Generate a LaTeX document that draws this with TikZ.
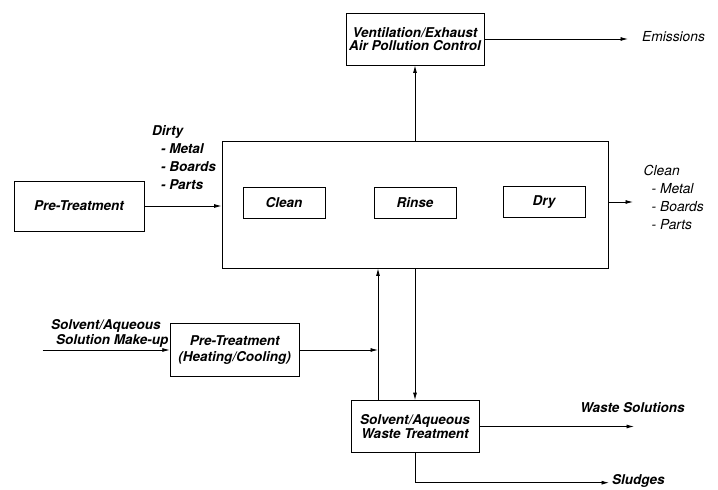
\documentclass[tikz,border=0pt]{standalone}
\usepackage{fontspec}
\setmainfont{TeX Gyre Heros}
\usetikzlibrary{arrows.meta, positioning}

\begin{document}
\begin{tikzpicture}[x=1pt, y=-1pt, line width=0.8pt,
  unit/.style={draw, align=center, inner sep=0pt, font=\fontsize{13.5}{12.5}\selectfont\bfseries\itshape},
  stage/.style={draw, minimum width=82pt, minimum height=31pt, inner sep=0pt, font=\fontsize{13.5}{13}\selectfont\bfseries\itshape},
  tag/.style={align=left, inner sep=0pt, font=\fontsize{13.5}{18}\selectfont\bfseries\itshape},
  flow/.style={-{Latex[length=7.5pt, width=4pt]}}]
  \useasboundingbox (0,0) rectangle (718,490);

  % Cleaning line
  \node[draw, minimum width=386pt, minimum height=127pt] (line) at (415,204.5) {};
  \node[stage] (clean) at (284,203) {Clean};
  \node[stage] (rinse) at (415,203) {Rinse};
  \node[stage] (dry) at (544,202) {Dry};

  % Air side
  \node[unit, minimum width=138pt, minimum height=52pt] (vent) at (415,39) {Ventilation/Exhaust\\Air Pollution Control};
  \draw[flow] (line.north) -- (vent.south);
  \coordinate (emis) at (628,39);
  \draw[flow] (vent.east) -- (emis);
  \node[tag, anchor=base west, font=\fontsize{13.8}{18}\selectfont\itshape] (emistxt) at (641.7,41.4) {Emissions};

  % Parts in
  \node[unit, minimum width=130pt, minimum height=50pt] (pre) at (79,206) {Pre-Treatment};
  \draw[flow] (pre.east) -- (pre.east -| line.west);
  \node[tag, anchor=north west] (dirty) at (151.7,125.2) {Dirty\\\hspace*{9pt}- Metal\\\hspace*{9pt}- Boards\\\hspace*{9pt}- Parts};

  % Parts out
  \coordinate (out) at (633,202);
  \draw[flow] (line.east |- out) -- (out);
  \node[tag, anchor=north west, font=\fontsize{13.8}{18}\selectfont\itshape] (cleaned) at (643.3,165.2) {Clean\\\hspace*{8pt}- Metal\\\hspace*{8pt}- Boards\\\hspace*{8pt}- Parts};

  % Make-up
  \node[unit, font=\fontsize{13.5}{15.7}\selectfont\bfseries\itshape, minimum width=129pt, minimum height=53pt] (heat) at (234.7,350) {Pre-Treatment\\(Heating/Cooling)};
  \coordinate (feed) at (42.7,350);
  \draw[flow] (feed) -- (feed -| heat.west);
  \node[tag, font=\fontsize{13.5}{15}\selectfont\bfseries\itshape, anchor=north west] (makeup) at (50.7,318.6) {Solvent/Aqueous\\\hspace*{5pt}Solution Make-up};

  % Waste side
  \node[unit, font=\fontsize{13.5}{13.3}\selectfont\bfseries\itshape, minimum width=128pt, minimum height=52pt] (waste) at (415,426.5) {Solvent/Aqueous\\Waste Treatment};
  \draw[flow] (line.south) -- (waste.north);
  \coordinate (rise) at ([xshift=-37pt]waste.north);
  \draw[flow] (rise) -- (rise |- line.south);
  \draw[flow] (heat.east) -- (heat.east -| rise);
  \coordinate (wsol) at (634,426.5);
  \draw[flow] (waste.east) -- (wsol);
  \node[tag, anchor=base west] (wsoltxt) at (580,412.3) {Waste Solutions};
  \coordinate (sludge) at (609,482.7);
  \draw[flow] (waste.south) |- (sludge);
  \node[tag, anchor=base west] (sludgetxt) at (611.7,484) {Sludges};
\end{tikzpicture}
\end{document}
